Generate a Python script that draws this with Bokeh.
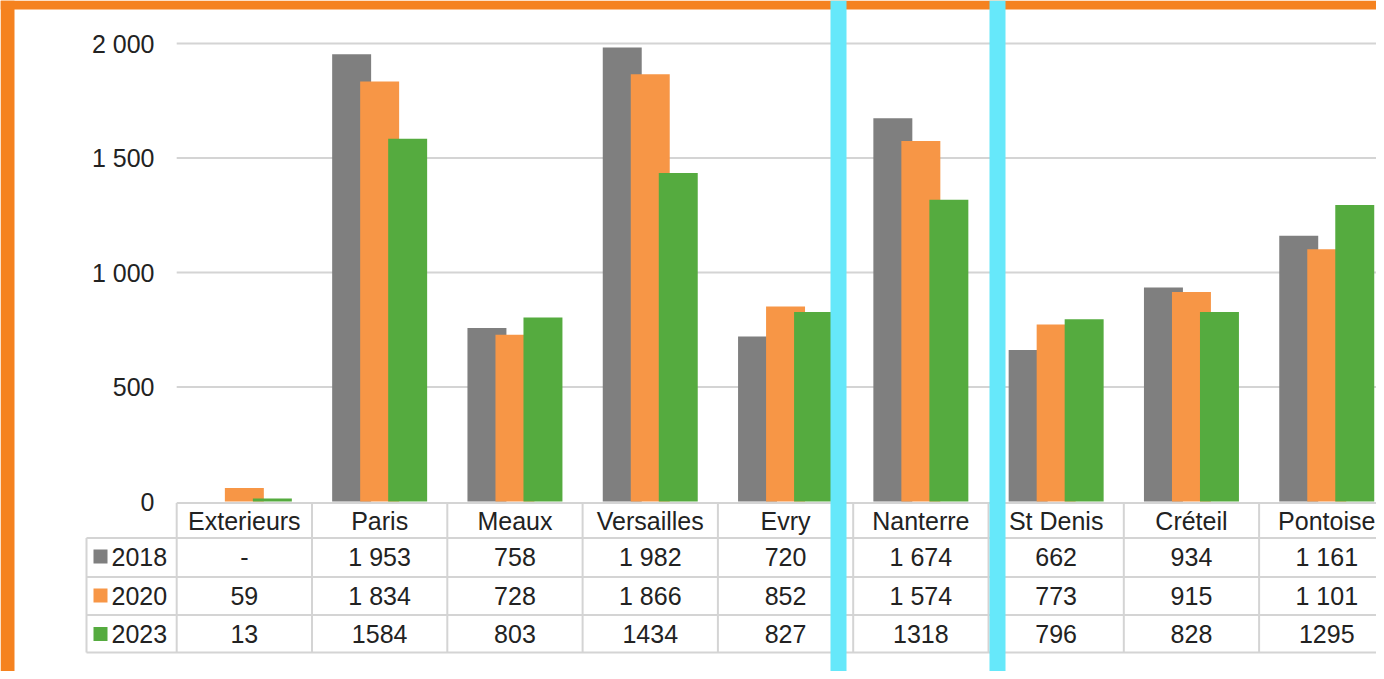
import math
from bokeh.plotting import figure
from bokeh.models import Range1d, Span, BoxAnnotation
from bokeh.core.properties import value
from bokeh.embed import file_html
from bokeh.resources import INLINE

# ---------------- data ----------------
categories = ["Exterieurs", "Paris", "Meaux", "Versailles", "Evry",
              "Nanterre", "St Denis", "Créteil", "Pontoise"]
series_names = ["2018", "2020", "2023"]
v2018 = [None, 1953, 758, 1982, 720, 1674, 662, 934, 1161]
v2020 = [59, 1834, 728, 1866, 852, 1574, 773, 915, 1101]
v2023 = [13, 1584, 803, 1434, 827, 1318, 796, 828, 1295]
y_ticks = [0, 500, 1000, 1500, 2000]
y_tick_labels = ["0", "500", "1 000", "1 500", "2 000"]

# ---------------- styles ----------------
colors = ["#7F7F7F", "#F79646", "#55AB3F"]
ORANGE = "#F5821F"
CYAN = "#66E8FA"
GRID = "#D4D4D4"
TXT = "#222222"
FONT = value("Liberation Sans")
FS = "25px"

W, H = 1376, 671
# pixel -> data helpers (picture coordinates), for layout only
K = 2000 / 458.0          # value units per pixel
CW = 135.3                # pixels per category
X0 = 176.2                # x of first category's left edge
Y0 = 501.0                # y of value 0


def wx(x):
    return (x - X0) / CW


def wy(y):
    return (Y0 - y) * K


p = figure(width=W, height=H, output_backend="svg", toolbar_location=None,
           x_axis_location=None, y_axis_location=None,
           x_range=Range1d(wx(0), wx(W)), y_range=Range1d(wy(H), wy(0)),
           min_border=0, outline_line_color=None, background_fill_color="white",
           border_fill_color="white")
p.xgrid.visible = False
p.ygrid.visible = False

n = len(categories)

# gridlines (value axis)
gt = [t for t in y_ticks if t > 0]
p.segment(x0=[0] * len(gt), x1=[n + 1] * len(gt), y0=gt, y1=gt,
          line_color=GRID, line_width=2)

# y tick labels
p.text(x=[wx(154)] * len(y_ticks), y=y_ticks, text=y_tick_labels,
       text_font=FONT, text_font_size=FS, text_color=TXT,
       text_align="right", text_baseline="middle")

# bars
bw = 0.288
offs = [-0.207, 0.0, 0.207]
for vals, col, off in zip([v2018, v2020, v2023], colors, offs):
    xs = [i + 0.5 + off for i in range(n)]
    tops = [float("nan") if v is None else v for v in vals]
    p.vbar(x=xs, top=tops, bottom=0, width=bw, fill_color=col, line_color=None)

# ---------------- data table ----------------
hdr_top = wy(502.5)
row_lines = [wy(537.5), wy(576.5), wy(614.5), wy(652)]
right_x = n + 1
p.segment(x0=[0], x1=[right_x], y0=[hdr_top], y1=[hdr_top], line_color=GRID, line_width=2)
p.segment(x0=[wx(86)] * 4, x1=[right_x] * 4, y0=row_lines, y1=row_lines,
          line_color=GRID, line_width=2)
p.segment(x0=[wx(86)], x1=[wx(86)], y0=[row_lines[0]], y1=[row_lines[-1]],
          line_color=GRID, line_width=2)
vx = list(range(n))
p.segment(x0=vx, x1=vx, y0=[hdr_top] * n, y1=[row_lines[-1]] * n,
          line_color=GRID, line_width=2)

p.text(x=[i + 0.5 for i in range(n)], y=[wy(520)] * n, text=categories,
       text_font=FONT, text_font_size=FS, text_color=TXT,
       text_align="center", text_baseline="middle")


def fmt_space(v):
    if v is None:
        return "-"
    return f"{v:,}".replace(",", " ")


row_y = [wy(556), wy(595), wy(633.5)]
labels = [[fmt_space(v) for v in v2018],
          [fmt_space(v) for v in v2020],
          [str(v) for v in v2023]]
for lab, yy in zip(labels, row_y):
    p.text(x=[i + 0.5 for i in range(n)], y=[yy] * n, text=lab,
           text_font=FONT, text_font_size=FS, text_color=TXT,
           text_align="center", text_baseline="middle")

p.scatter(x=[wx(100)] * 3, y=row_y, marker="square", size=14,
          fill_color=colors, line_color=None)
p.text(x=[wx(111)] * 3, y=row_y, text=series_names,
       text_font=FONT, text_font_size=FS, text_color=TXT,
       text_align="left", text_baseline="middle")

# ---------------- frame decorations ----------------
p.add_layout(BoxAnnotation(right=wx(14), fill_color=ORANGE, fill_alpha=1.0,
                           line_alpha=0))
p.add_layout(BoxAnnotation(bottom=wy(9), fill_color=ORANGE, fill_alpha=1.0,
                           line_alpha=0))
for loc in [wx(838), wx(997)]:
    p.add_layout(Span(location=loc, dimension="height", line_color=CYAN,
                      line_width=16))

open("out.html", "w").write(file_html(p, INLINE))
